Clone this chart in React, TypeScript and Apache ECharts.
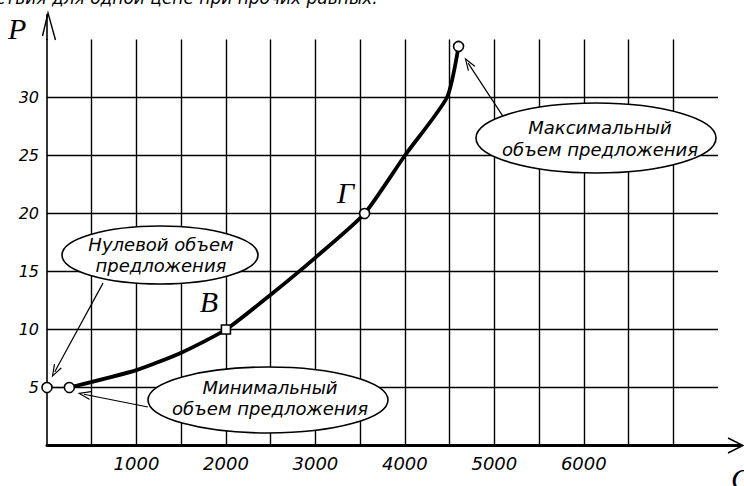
import React, { useEffect, useRef } from "react";
import * as echarts from "echarts";

// ---- data ----
const supplyQ = [250, 1000, 1500, 2000, 2500, 3000, 3550, 4000, 4470, 4600];
const supplyP = [5, 6.5, 8, 10, 13, 16.2, 20, 25, 30, 34.4];

const pointQ = [0, 250, 2000, 3550, 4600];
const pointP = [5, 5, 10, 20, 34.4];
const pointLabels = ["", "", "В", "Г", ""];
const pointSymbols = ["circle", "circle", "rect", "circle", "circle"];

const xTickLabels = [1000, 2000, 3000, 4000, 5000, 6000];
const yTickLabels = [5, 10, 15, 20, 25, 30];

const titleText = "ствия для одной цене при прочих равных.";
const noteZero = "Нулевой объем\nпредложения";
const noteMin = "Минимальный\nобъем предложения";
const noteMax = "Максимальный\nобъем предложения";

// arrows (data coordinates): [from, to]
const arrowZero = [[626, 14.0], [87, 6.36]];
const arrowMin = [[1128, 3.32], [412, 4.42]];
const arrowMax = [[5095, 28.4], [4707, 32.97]];

const SANS = "'DejaVu Sans', 'Liberation Sans', sans-serif";
const SERIF = "'Liberation Serif', 'DejaVu Serif', serif";

export default function App() {
  const ref = useRef<HTMLDivElement>(null);

  useEffect(() => {
    if (!ref.current) return;
    const chart = echarts.init(ref.current, undefined, { renderer: "svg" });

    const labelOffsets: Record<string, number[]> = { "В": [-17, -28], "Г": [-19, -21] };

    const option: any = {
      animation: false,
      backgroundColor: "#ffffff",
      grid: { left: 47, top: 39.5, width: 671, height: 406, containLabel: false },
      xAxis: {
        type: "value",
        min: 0,
        max: 7500,
        interval: 500,
        axisLine: { show: true, onZero: false, lineStyle: { color: "#000", width: 3 } },
        axisTick: { show: false },
        axisLabel: {
          margin: 9,
          color: "#000",
          fontFamily: SANS,
          fontStyle: "italic",
          fontSize: 18,
          formatter: (v: number) => (xTickLabels.indexOf(v) >= 0 ? String(v) : ""),
        },
        splitLine: {
          show: true,
          showMinLine: false,
          showMaxLine: false,
          lineStyle: { color: "#000", width: 1.4 },
        },
      },
      yAxis: {
        type: "value",
        min: 0,
        max: 35,
        interval: 5,
        axisLine: { show: true, onZero: false, lineStyle: { color: "#000", width: 1.6 } },
        axisTick: { show: false },
        axisLabel: {
          margin: 8,
          color: "#000",
          fontFamily: SANS,
          fontStyle: "italic",
          fontSize: 16,
          formatter: (v: number) => (yTickLabels.indexOf(v) >= 0 ? String(v) : ""),
        },
        splitLine: {
          show: true,
          showMinLine: false,
          showMaxLine: false,
          lineStyle: { color: "#000", width: 1.4 },
        },
      },
      series: [
        {
          type: "line",
          name: "supply",
          data: supplyQ.map((q, i) => [q, supplyP[i]]),
          symbol: "none",
          smooth: 0.2,
          lineStyle: { color: "#000", width: 3.8 },
          z: 3,
        },
        {
          type: "line",
          name: "connector",
          data: [
            [pointQ[0], pointP[0]],
            [pointQ[1], pointP[1]],
          ],
          symbol: "none",
          lineStyle: { color: "#000", width: 1.2 },
          z: 3,
          markLine: {
            silent: true,
            symbol: ["none", "path://M0,12 L5,0 L10,12 L8.6,12 L5,3.2 L1.4,12 Z"],
            symbolSize: [9, 13],
            label: { show: false },
            lineStyle: { color: "#000", width: 1.2, type: "solid" },
            data: [arrowZero, arrowMin, arrowMax].map((a) => [
              { coord: a[0] },
              { coord: a[1] },
            ]),
          },
        },
        {
          type: "scatter",
          name: "points",
          clip: false,
          z: 6,
          data: pointQ.map((q, i) => {
            const lab = pointLabels[i];
            return {
              value: [q, pointP[i]],
              symbol: pointSymbols[i],
              symbolSize: pointSymbols[i] === "rect" ? 9 : 10,
              label: lab
                ? {
                    show: true,
                    formatter: lab,
                    position: "inside",
                    offset: labelOffsets[lab],
                    color: "#000",
                    fontFamily: SERIF,
                    fontStyle: "italic",
                    fontSize: 30,
                  }
                : { show: false },
            };
          }),
          itemStyle: { color: "#ffffff", opacity: 1, borderColor: "#000", borderWidth: 1.6 },
        },
      ],
      graphic: [
        // cut-off title at the very top (as in the reference)
        {
          type: "text",
          x: -4,
          y: 6,
          z: 50,
          style: {
            text: titleText,
            fill: "#000",
            font: `italic 17px ${SANS}`,
            verticalAlign: "bottom",
            align: "left",
          },
        },
        // axis names
        {
          type: "text",
          x: 8,
          y: 28,
          z: 50,
          style: { text: "P", fill: "#000", font: `italic 30px ${SERIF}`, verticalAlign: "middle" },
        },
        {
          type: "text",
          x: 731,
          y: 478,
          z: 50,
          style: { text: "Q", fill: "#000", font: `italic 30px ${SERIF}`, verticalAlign: "middle" },
        },
        // axis extensions and arrows
        { type: "line", z: 50, shape: { x1: 718, y1: 445.5, x2: 741, y2: 445.5 }, style: { stroke: "#000", lineWidth: 3 } },
        { type: "polyline", z: 50, shape: { points: [[728, 438], [743, 445.5], [728, 453]] }, style: { stroke: "#000", lineWidth: 1.4, fill: "none" } },
        { type: "line", z: 50, shape: { x1: 47, y1: 40, x2: 47, y2: 14 }, style: { stroke: "#000", lineWidth: 1.6 } },
        { type: "polyline", z: 50, shape: { points: [[42.5, 36], [48, 13], [55.5, 40]] }, style: { stroke: "#000", lineWidth: 1.4, fill: "none" } },
        // callout ellipses
        { type: "ellipse", z: 100, shape: { cx: 160, cy: 255, rx: 98, ry: 29 }, style: { fill: "#fff", stroke: "#000", lineWidth: 1.6 } },
        { type: "text", z: 101, x: 161, y: 255, style: { text: noteZero, fill: "#000", font: `italic 18px ${SANS}`, align: "center", verticalAlign: "middle", lineHeight: 21 } },
        { type: "ellipse", z: 100, shape: { cx: 268, cy: 400, rx: 120, ry: 33 }, style: { fill: "#fff", stroke: "#000", lineWidth: 1.6 } },
        { type: "text", z: 101, x: 270, y: 398, style: { text: noteMin, fill: "#000", font: `italic 18px ${SANS}`, align: "center", verticalAlign: "middle", lineHeight: 21 } },
        { type: "ellipse", z: 100, shape: { cx: 596, cy: 138, rx: 120, ry: 35 }, style: { fill: "#fff", stroke: "#000", lineWidth: 1.6 } },
        { type: "text", z: 101, x: 600, y: 138, style: { text: noteMax, fill: "#000", font: `italic 18px ${SANS}`, align: "center", verticalAlign: "middle", lineHeight: 22 } },
      ],
    };

    chart.setOption(option);
    return () => chart.dispose();
  }, []);

  return (
    <div
      ref={ref}
      style={{ position: "fixed", left: 0, top: 0, width: 744, height: 486, background: "#fff" }}
    />
  );
}
